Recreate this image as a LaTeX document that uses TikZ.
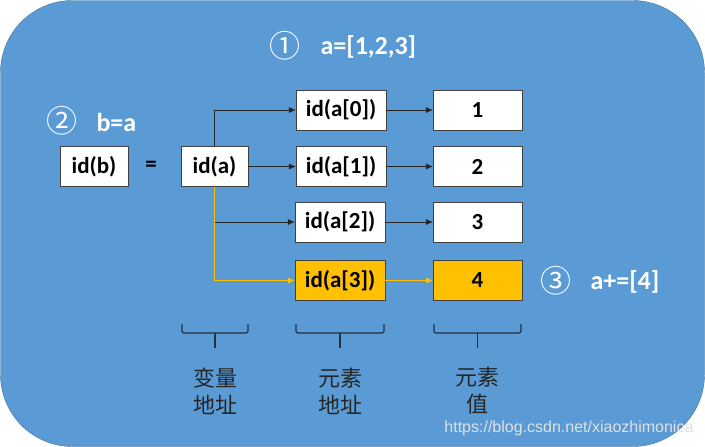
\documentclass[tikz,border=0pt]{standalone}
\usepackage{fontspec}
\setmainfont{Carlito}
\newfontfamily\cjk{Noto Sans CJK SC}
\newfontfamily\wmfont{Liberation Sans}
\usepackage{tikz}
\usetikzlibrary{arrows.meta}
\usepackage{xcolor}
\definecolor{sky}{RGB}{91, 155, 213}
\definecolor{skyline}{RGB}{65, 113, 156}
\definecolor{gold}{RGB}{255, 192, 0}
\definecolor{boxline}{RGB}{64, 64, 64}
\definecolor{ink}{RGB}{38, 47, 62}

\begin{document}
\begin{tikzpicture}[x=1pt,y=-1pt,
  cell/.style={draw=boxline,fill=white,minimum width=90pt,minimum height=40pt,inner sep=0pt,font=\fontsize{23}{23}\selectfont\bfseries},
  varcell/.style={cell,minimum width=67pt},
  newcell/.style={cell,fill=gold},
  link/.style={-{Latex[length=7pt,width=6pt]},thin,black!85},
  newlink/.style={link,gold},
  label/.style={text=white,font=\fontsize{26}{26}\selectfont\bfseries,anchor=west},
  num/.style={text=white,font=\cjk\fontsize{31}{31}\selectfont},
  hans/.style={text=black!85,align=center,font=\cjk\fontsize{22}{27}\selectfont},
  bracket/.style={ink,line width=1.2pt,rounded corners=2pt}]
\useasboundingbox (0,0) rectangle (705,447);
\fill[white] (0,0) rectangle (705,447);
\draw[skyline,fill=sky,rounded corners=72pt] (0.5,0.5) rectangle (704.5,446.5);
% statements
\node[num] (n1) at (285,46) {①};
\node[label] (s1) at (317,47) {a=[1,2,3]};
\node[num] (n2) at (62,121) {②};
\node[label] (s2) at (93,122) {b=a};
\node[num] (n3) at (556,281) {③};
\node[label] (s3) at (587,282) {a+=[4]};
% variables
\node[varcell,minimum width=68pt] (idb) at (94,166.5) {id(b)};
\node[font=\fontsize{23}{23}\selectfont\bfseries] (eq) at (151,166.5) {=};
\node[varcell] (ida) at (214.5,166.5) {id(a)};
% element addresses
\node[cell] (a0) at (341,110) {id(a[0])};
\node[cell] (a1) at (341,166.5) {id(a[1])};
\node[cell] (a2) at (340,222) {id(a[2])};
\node[newcell] (a3) at (340,280.5) {id(a[3])};
% element values
\node[cell,minimum width=89pt] (v1) at (477.5,110) {1};
\node[cell,minimum width=89pt] (v2) at (477.5,166.5) {2};
\node[cell,minimum width=89pt] (v3) at (477.5,222) {3};
\node[newcell,minimum width=89pt] (v4) at (477.5,280.5) {4};
% links
\draw[link] (ida.north) |- (a0.west);
\draw[link] (ida.east) -- (a1.west);
\draw[link] (ida.south) |- (a2.west);
\draw[newlink] (ida.south) |- (a3.west);
\draw[link] (a0) -- (v1);
\draw[link] (a1) -- (v2);
\draw[link] (a2) -- (v3);
\draw[newlink] (a3) -- (v4);
% braces
\draw[bracket] (182,324) -- (182,333) -- (248,333) -- (248,324);
\draw[bracket] (215,333) -- (215,348);
\draw[bracket] (296,324) -- (296,333) -- (384,333) -- (384,324);
\draw[bracket] (340,333) -- (340,348);
\draw[bracket] (434,324) -- (434,333) -- (521,333) -- (521,324);
\draw[bracket] (477.5,333) -- (477.5,348);
\node[hans] (h1) at (215,391) {变量\\地址};
\node[hans] (h2) at (340,391) {元素\\地址};
\node[hans] (h3) at (477,391) {元素\\值};
\node[text=black!12,anchor=east,font=\wmfont\fontsize{16}{16}\selectfont] (wm) at (697,428) {https://blog.csdn.net/xiaozhimonica};
\end{tikzpicture}
\end{document}
